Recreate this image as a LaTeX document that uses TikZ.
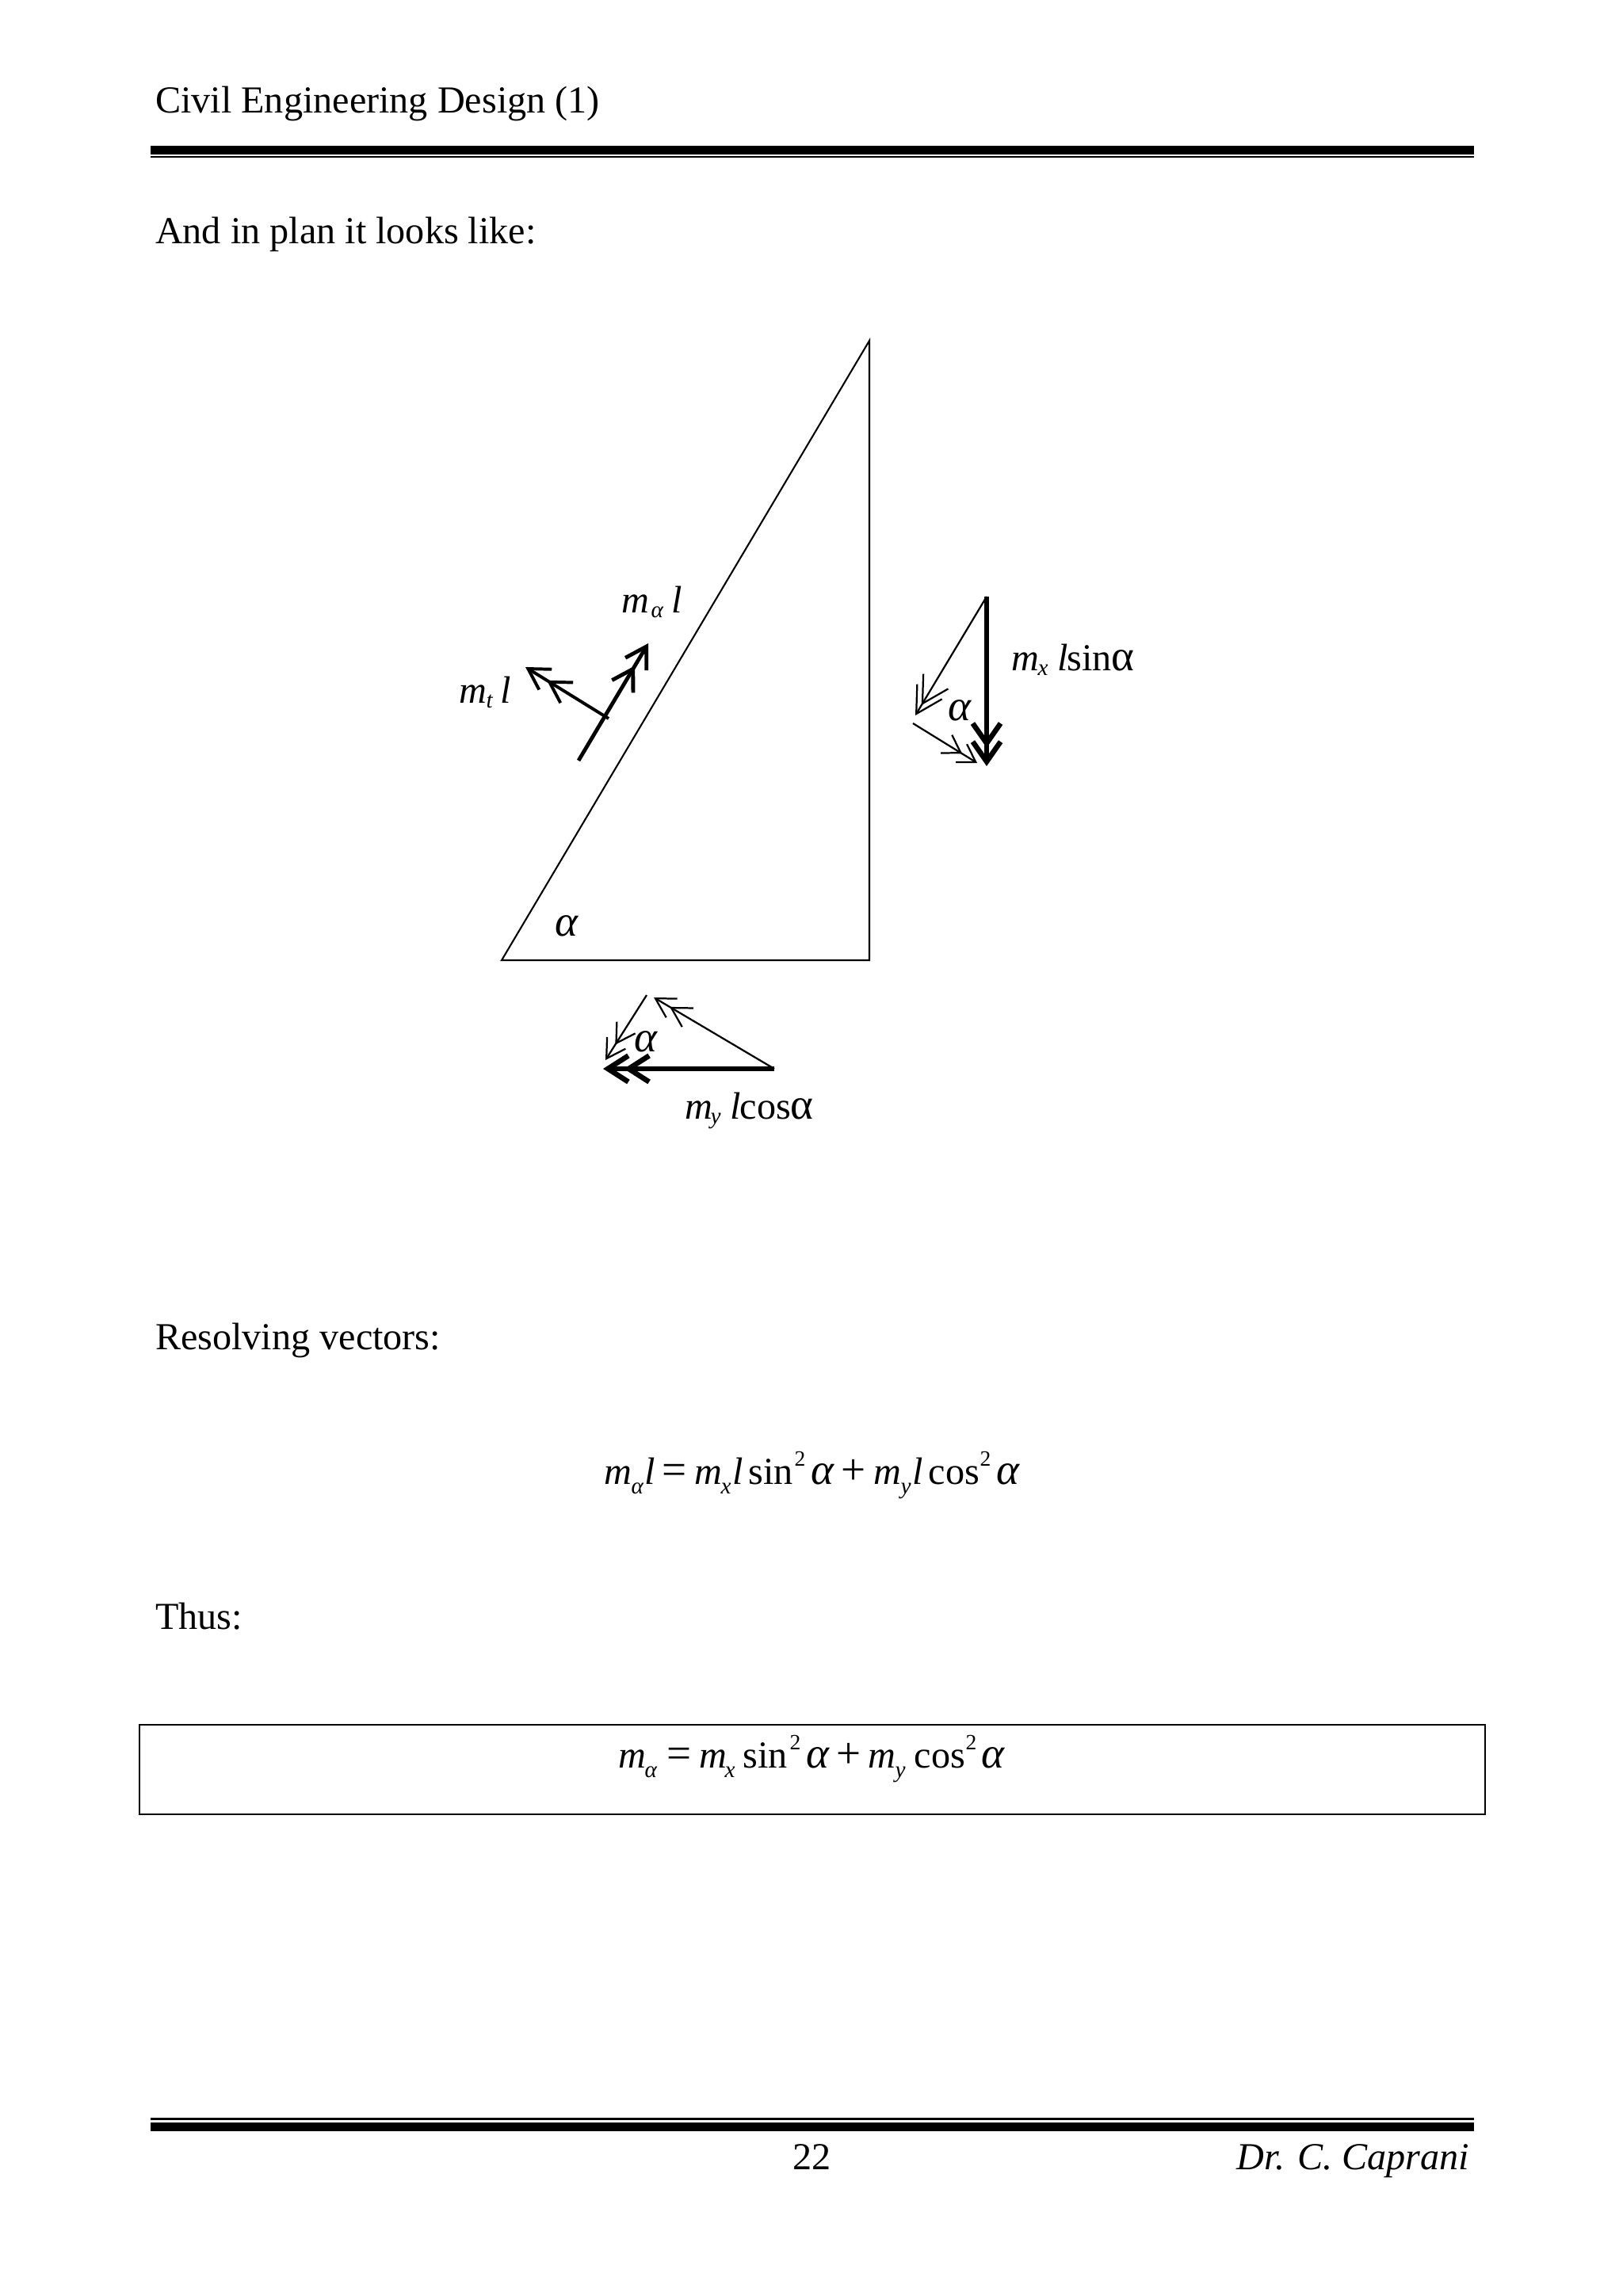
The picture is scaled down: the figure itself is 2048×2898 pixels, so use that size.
\documentclass[tikz,border=0pt]{standalone}
\usepackage{fontspec}
\setmainfont{Liberation Serif}
\usetikzlibrary{arrows.meta}
\newdimen\pxu \pxu=0.2905pt
\newcommand{\pc}[3]{\rlap{\kern#1\pxu\raise#2\pxu\hbox{#3}}}
\newcommand{\bt}{\fontsize{14}{16}\selectfont}
\newcommand{\lgf}{\fontsize{16}{18}\selectfont}
\newcommand{\mi}[1]{{\bt\itshape #1}}
\newcommand{\ai}{{\lgf\itshape α}}
\newcommand{\su}[1]{{\fontsize{8.5}{10}\selectfont\itshape #1}}
\newcommand{\sq}{{\fontsize{8}{10}\selectfont 2}}
\tikzset{
  x=0.2905pt,y=-0.2905pt,
  txt/.style={anchor=base west,inner sep=0pt,outer sep=0pt,font=\bt},
  txtr/.style={anchor=base east,inner sep=0pt,outer sep=0pt,font=\bt},
  outline/.style={line width=0.6pt,line join=miter},
  thinv/.style={line width=0.65pt},
  boldv/.style={line width=#1,line cap=butt},
  dbl/.style n args={3}{-{Straight Barb[length=#1,width=#2,sep=#3]Straight Barb[length=#1,width=#2]}},
  dblh/.style n args={3}{-{Straight Barb[length=#1,width=#2,sep=#3,line width=1.9pt]Straight Barb[length=#1,width=#2,line width=1.9pt]}}
}
\begin{document}
\begin{tikzpicture}
\useasboundingbox (0,0) rectangle (2048,2898);
% header and footer rules
\fill (190,184) rectangle (1860,194.7);
\fill (190,197) rectangle (1860,199.5);
\fill (190,2673.3) rectangle (1860,2676.2);
\fill (190,2679) rectangle (1860,2689.5);
% page text
\node[txt] (head) at (196,143) {Civil Engineering Design (1)};
\node[txt] (intro) at (196,308) {And in plan it looks like:};
\node[txt] (res) at (196,1703) {Resolving vectors:};
\node[txt] (thus) at (196,2056) {Thus:};
\node[txt] (pnum) at (1000,2738) {22};
\node[txtr] (auth) at (1854,2738) {\itshape Dr. C. Caprani};
% triangle
\coordinate (apex) at (1097,430);
\coordinate (bl) at (633,1212);
\coordinate (br) at (1097,1212);
\draw[outline] (apex) -- (bl) -- (br) -- cycle;
\node[txt] (tria) at (700,1181) {\ai};
% moment vectors on the edge
\coordinate (a0) at (730,960);
\coordinate (a1) at (818,812);
\coordinate (t0) at (768,907);
\coordinate (t1) at (663,842);
\draw[boldv=1.4pt,dbl={7.5pt}{9pt}{0pt}] (a0) -- (a1);
\draw[boldv=1.15pt,dbl={7.5pt}{8.8pt}{0pt}] (t0) -- (t1);
\node[txt] (ma) at (783,774) {\pc{0}{0}{\mi{m}}\pc{37}{-6}{\su{α}}\pc{63}{0}{\mi{l}}};
\node[txt] (mt) at (578,888) {\pc{0}{0}{\mi{m}}\pc{34}{-6}{\su{t}}\pc{52}{0}{\mi{l}}};
% right triangle of vectors
\coordinate (r0) at (1245,753);
\coordinate (r1) at (1245,967);
\coordinate (r2) at (1155,903);
\coordinate (r3) at (1152,913);
\coordinate (r4) at (1233,963);
\draw[boldv=1.5pt,dblh={7.3pt}{10.2pt}{-3.2pt}] (r0) -- (r1);
\draw[thinv,dbl={9.5pt}{10.6pt}{-6.1pt}] (r0) -- (r2);
\draw[thinv,dbl={6.2pt}{7.8pt}{-0.7pt}] (r3) -- (r4);
\node[txt] (ra) at (1196,910) {\ai};
\node[txt] (mx) at (1275,847) {\pc{0}{0}{\mi{m}}\pc{33}{-6}{\su{x}}\pc{58}{0}{\mi{l}}\pc{70}{0}{{\bt sin{\lgf α}}}};
% lower triangle of vectors
\coordinate (l0) at (977,1349);
\coordinate (l1) at (761,1349);
\coordinate (l2) at (816,1256);
\coordinate (l3) at (764,1338);
\coordinate (l4) at (825,1259);
\draw[boldv=1.5pt,dblh={7.5pt}{9.6pt}{-2.6pt}] (l0) -- (l1);
\draw[thinv,dbl={6.8pt}{8pt}{-1.1pt}] (l2) -- (l3);
\draw[thinv,dbl={7pt}{8pt}{-1.2pt}] (l0) -- (l4);
\node[txt] (la) at (800,1327) {\ai};
\node[txt] (my) at (863,1412) {\pc{0}{0}{\mi{m}}\pc{32}{-6}{\su{y}}\pc{57}{0}{\mi{l}}\pc{69}{0}{{\bt cos{\lgf α}}}};
% first equation
\node[txt] (eqa) at (761,1873) {\pc{0}{0}{\mi{m}}\pc{34}{-12}{\su{α}}\pc{51}{0}{\mi{l}}\pc{73}{0}{{\lgf =}}\pc{114}{0}{\mi{m}}\pc{147}{-12}{\su{x}}\pc{162}{0}{\mi{l}}\pc{182}{0}{sin}\pc{240}{23}{\sq}\pc{261}{0}{\ai}\pc{299}{0}{{\lgf +}}\pc{340}{0}{\mi{m}}\pc{374}{-12}{\su{y}}\pc{389}{0}{\mi{l}}\pc{409}{0}{cos}\pc{474}{23}{\sq}\pc{495}{0}{\ai}};
% boxed result
\coordinate (bxa) at (176,2177);
\coordinate (bxb) at (1874,2290);
\draw[outline] (bxa) rectangle (bxb);
\node[txt] (eqb) at (779,2231) {\pc{0}{0}{\mi{m}}\pc{33}{-12}{\su{α}}\pc{61}{0}{{\lgf =}}\pc{102}{0}{\mi{m}}\pc{134}{-12}{\su{x}}\pc{157}{0}{sin}\pc{216}{23}{\sq}\pc{237}{0}{\ai}\pc{275}{0}{{\lgf +}}\pc{315}{0}{\mi{m}}\pc{349}{-12}{\su{y}}\pc{373}{0}{cos}\pc{438}{23}{\sq}\pc{458}{0}{\ai}};
\end{tikzpicture}
\end{document}
